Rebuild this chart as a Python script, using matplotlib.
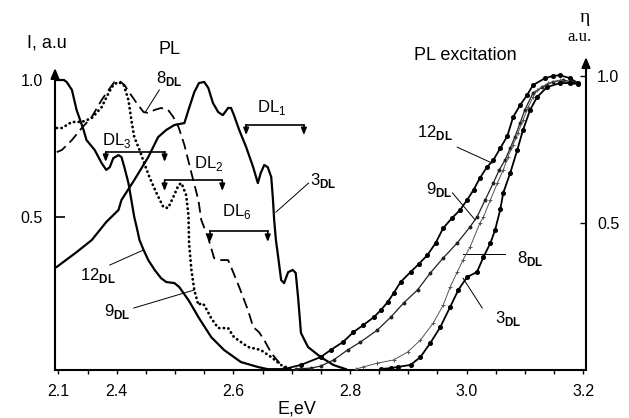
import matplotlib.pyplot as plt

plt.rcParams['font.family'] = ['Liberation Sans', 'DejaVu Sans']
plt.rcParams['mathtext.fontset'] = 'custom'
plt.rcParams['mathtext.rm'] = 'Liberation Sans'
plt.rcParams['mathtext.bf'] = 'Liberation Sans:bold'

# PL spectra (left axis, I a.u.)
pl12_x = [2.297, 2.309, 2.314, 2.323, 2.331, 2.343, 2.348, 2.362, 2.374, 2.382, 2.388, 2.394,
          2.403, 2.408, 2.413, 2.420, 2.425, 2.430, 2.434, 2.439, 2.446, 2.454, 2.465, 2.476,
          2.485, 2.499, 2.507, 2.523, 2.533, 2.540, 2.562, 2.584, 2.613, 2.642, 2.659, 2.682]
pl12_y = [1.0, 1.0, 0.993, 0.964, 0.891, 0.818, 0.781, 0.745, 0.697, 0.672, 0.682, 0.715,
          0.726, 0.719, 0.682, 0.624, 0.562, 0.500, 0.464, 0.416, 0.380, 0.343, 0.307, 0.277,
          0.263, 0.259, 0.245, 0.197, 0.161, 0.135, 0.062, 0.015, -0.029, -0.047, -0.055, -0.055]

pl3_x = [2.297, 2.331, 2.357, 2.382, 2.403, 2.408, 2.430, 2.454, 2.471, 2.485, 2.499, 2.516,
         2.523, 2.533, 2.541, 2.550, 2.557, 2.565, 2.574, 2.582, 2.591, 2.596, 2.601, 2.610,
         2.622, 2.634, 2.642, 2.647, 2.653, 2.659, 2.665, 2.668, 2.670, 2.673, 2.676, 2.682,
         2.687, 2.694, 2.702, 2.707, 2.711, 2.716, 2.728, 2.750, 2.772, 2.793]
pl3_y = [0.318, 0.372, 0.416, 0.482, 0.526, 0.562, 0.635, 0.719, 0.792, 0.818, 0.836, 0.843,
         0.891, 0.956, 0.989, 0.993, 0.971, 0.916, 0.883, 0.872, 0.898, 0.898, 0.872, 0.818,
         0.755, 0.682, 0.624, 0.661, 0.690, 0.682, 0.646, 0.562, 0.489, 0.416, 0.369, 0.270,
         0.259, 0.299, 0.307, 0.296, 0.208, 0.077, 0.026, -0.011, -0.040, -0.055]

pl8_x = [2.297, 2.306, 2.323, 2.340, 2.357, 2.374, 2.386, 2.396, 2.405, 2.413, 2.422, 2.434,
         2.446, 2.454, 2.465, 2.476, 2.488, 2.497, 2.506, 2.516, 2.528, 2.540, 2.545, 2.557,
         2.567, 2.579, 2.591, 2.596, 2.610, 2.625, 2.634, 2.644, 2.653, 2.665, 2.682, 2.694]
pl8_y = [0.737, 0.745, 0.781, 0.825, 0.865, 0.927, 0.964, 0.993, 0.996, 0.982, 0.953, 0.916,
         0.883, 0.880, 0.891, 0.898, 0.891, 0.865, 0.828, 0.763, 0.661, 0.562, 0.489, 0.423,
         0.350, 0.343, 0.343, 0.318, 0.245, 0.161, 0.099, 0.080, 0.051, 0.004, -0.040, -0.055]

pl9_x = [2.297, 2.306, 2.323, 2.340, 2.357, 2.374, 2.386, 2.394, 2.403, 2.412, 2.420, 2.425,
         2.430, 2.439, 2.447, 2.456, 2.468, 2.480, 2.488, 2.497, 2.506, 2.511, 2.519, 2.523,
         2.524, 2.528, 2.533, 2.540, 2.545, 2.550, 2.562, 2.574, 2.591, 2.601, 2.625, 2.647,
         2.665, 2.682, 2.699]
pl9_y = [0.825, 0.825, 0.847, 0.847, 0.861, 0.901, 0.953, 0.982, 0.993, 0.982, 0.927, 0.854,
         0.792, 0.745, 0.697, 0.646, 0.588, 0.536, 0.533, 0.573, 0.617, 0.624, 0.580, 0.507,
         0.405, 0.307, 0.234, 0.179, 0.186, 0.179, 0.131, 0.095, 0.095, 0.062, 0.026, 0.015,
         -0.011, -0.040, -0.055]

# PL excitation spectra (right axis, eta a.u.)
ex12_x = [2.687, 2.716, 2.750, 2.767, 2.788, 2.806, 2.823, 2.841, 2.853, 2.865, 2.875, 2.887,
          2.904, 2.918, 2.933, 2.947, 2.960, 2.975, 2.989, 3.001, 3.012, 3.023, 3.035, 3.046,
          3.058, 3.070, 3.080, 3.092, 3.104, 3.114, 3.135, 3.148, 3.160, 3.177, 3.191]
ex12_y = [0.0, 0.014, 0.041, 0.065, 0.092, 0.126, 0.150, 0.177, 0.201, 0.229, 0.259, 0.297,
          0.331, 0.358, 0.389, 0.430, 0.481, 0.515, 0.543, 0.577, 0.611, 0.652, 0.689, 0.713,
          0.754, 0.795, 0.860, 0.901, 0.935, 0.969, 0.993, 1.0, 1.003, 0.993, 0.976]

ex9_x = [2.707, 2.733, 2.750, 2.772, 2.796, 2.818, 2.847, 2.870, 2.892, 2.916, 2.938, 2.960,
         2.984, 3.006, 3.018, 3.032, 3.046, 3.056, 3.066, 3.075, 3.083, 3.092, 3.100, 3.114,
         3.130, 3.148, 3.165, 3.182, 3.191]
ex9_y = [0.0, 0.003, 0.010, 0.031, 0.065, 0.092, 0.133, 0.177, 0.225, 0.270, 0.328, 0.379,
         0.430, 0.485, 0.519, 0.577, 0.635, 0.679, 0.713, 0.754, 0.792, 0.840, 0.884, 0.942,
         0.962, 0.980, 0.986, 0.980, 0.973]

ex8_x = [2.810, 2.823, 2.847, 2.875, 2.899, 2.921, 2.943, 2.960, 2.972, 2.984, 2.994, 3.006,
         3.023, 3.029, 3.041, 3.053, 3.063, 3.071, 3.080, 3.088, 3.097, 3.106, 3.114, 3.121,
         3.140, 3.160, 3.181, 3.191]
ex8_y = [0.0, 0.007, 0.020, 0.031, 0.058, 0.099, 0.157, 0.218, 0.280, 0.331, 0.372, 0.416,
         0.498, 0.519, 0.577, 0.635, 0.679, 0.724, 0.765, 0.805, 0.850, 0.894, 0.928, 0.952,
         0.976, 0.986, 0.976, 0.973]

ex3_x = [2.853, 2.870, 2.882, 2.904, 2.921, 2.938, 2.955, 2.972, 2.986, 3.001, 3.018, 3.029,
         3.041, 3.049, 3.058, 3.063, 3.075, 3.087, 3.097, 3.109, 3.121, 3.138, 3.160, 3.177,
         3.191]
ex3_y = [0.0, 0.003, 0.007, 0.014, 0.041, 0.089, 0.143, 0.212, 0.270, 0.314, 0.331, 0.382,
         0.430, 0.474, 0.545, 0.601, 0.669, 0.747, 0.816, 0.884, 0.928, 0.962, 0.976, 0.976,
         0.973]

x_ticks = [2.3, 2.35, 2.4, 2.45, 2.5, 2.55, 2.6, 2.65, 2.7, 2.75, 2.8, 2.85, 2.9, 2.95,
           3.0, 3.05, 3.1, 3.15, 3.2]
x_labels = ['2.1', '', '2.4', '', '', '', '2.6', '', '', '', '2.8', '', '', '',
            '3.0', '', '', '', '3.2']


def sub(main, s, bold=True):
    if bold:
        return r'$\mathregular{%s}_{\mathbf{%s}}$' % (main, s)
    return r'$\mathregular{%s}_{\mathregular{%s}}$' % (main, s)


fig = plt.figure(figsize=(6.29, 4.18), dpi=100)
ax = fig.add_axes([55 / 629, 48 / 418, 531 / 629, 313 / 418])

# PL curves
ax.plot(pl12_x, pl12_y, color='black', lw=1.6)
ax.plot(pl3_x, pl3_y, color='black', lw=1.6)
ax.plot(pl8_x, pl8_y, color='black', lw=1.3, dashes=(6, 3))
ax.plot(pl9_x, pl9_y, color='black', lw=2.0, linestyle=(0, (0.1, 1.6)),
        dash_capstyle='round')

ax.set_xlim(2.294, 3.205)
ax.set_ylim(-0.058, 1.084)
for s in ['top', 'left', 'right']:
    ax.spines[s].set_visible(False)
ax.spines['bottom'].set_linewidth(1.5)
ax.set_xticks(x_ticks)
ax.set_xticklabels(x_labels)
ax.tick_params(axis='x', direction='out', length=3, width=1.0, pad=7, labelsize=11.5)
ax.set_yticks([0.5, 1.0])
ax.set_yticklabels(['0.5', '1.0'])
ax.tick_params(axis='y', direction='in', length=7, width=1.2, pad=9, labelsize=11.5)

# axis lines with arrows
arrow = dict(arrowstyle='-|>,head_length=0.6,head_width=0.25', lw=1.5, color='black',
             shrinkA=0, shrinkB=0, mutation_scale=10)
ax.annotate('', xy=(0, 0.965), xytext=(0, 0), xycoords='axes fraction', arrowprops=arrow)
ax.annotate('', xy=(1, 1.0), xytext=(1, 0), xycoords='axes fraction', arrowprops=arrow)

# excitation curves on right axis
ax2 = ax.twinx()
ax2.plot(ex12_x, ex12_y, color='black', lw=1.3, marker='o', ms=2.6)
ax2.plot(ex9_x, ex9_y, color='#222222', lw=0.9, marker='o', ms=1.8)
ax2.plot(ex8_x, ex8_y, color='#555555', lw=0.7, marker='+', ms=3.0, mew=0.7)
ax2.plot(ex3_x, ex3_y, color='black', lw=1.3, marker='o', ms=2.6)
ax2.set_ylim(-0.0034, 1.065)
for s in ax2.spines.values():
    s.set_visible(False)
ax2.set_yticks([0.5, 1.0])
ax2.set_yticklabels(['0.5', '1.0'])
ax2.tick_params(axis='y', direction='in', length=4, width=1.0, pad=8, labelsize=11.5)

# curve labels (PL)
lab = dict(ha='center', va='center', fontsize=12)
ax.text(2.490, 1.007, sub('8', 'DL'), **lab)
ax.plot([2.473, 2.449], [0.964, 0.883], color='black', lw=0.7)
ax.text(2.755, 0.635, sub('3', 'DL'), **lab)
ax.plot([2.729, 2.673], [0.624, 0.518], color='black', lw=0.7)
ax.text(2.367, 0.288, sub('12', 'DL'), **lab)
ax.plot([2.388, 2.446], [0.325, 0.380], color='black', lw=0.7)
ax.text(2.400, 0.157, sub('9', 'DL'), **lab)
ax.plot([2.429, 2.533], [0.168, 0.234], color='black', lw=0.7)

# curve labels (excitation)
ax.text(2.945, 0.807, sub('12', 'DL'), **lab)
ax.plot([2.984, 3.044], [0.755, 0.697], color='black', lw=0.7)
ax.text(2.953, 0.602, sub('9', 'DL'), **lab)
ax.plot([2.976, 3.015], [0.588, 0.489], color='black', lw=0.7)
ax.text(3.109, 0.350, sub('8', 'DL'), **lab)
ax.plot([2.994, 3.066], [0.365, 0.365], color='black', lw=0.7)
ax.text(3.071, 0.131, sub('3', 'DL'), **lab)
ax.plot([3.027, 2.994], [0.168, 0.277], color='black', lw=0.7)

# DL brackets
small_arrow = dict(arrowstyle='-|>,head_length=0.4,head_width=0.16', lw=1.2, color='black',
                   shrinkA=0, shrinkB=0, mutation_scale=10)
brackets = [('1', 2.665, 0.898, 2.622, 2.721, 0.836, 0.799),
            ('3', 2.400, 0.781, 2.381, 2.482, 0.737, 0.701),
            ('2', 2.557, 0.697, 2.482, 2.581, 0.635, 0.595),
            ('6', 2.606, 0.522, 2.560, 2.659, 0.449, 0.409)]
for n, tx, ty, x1, x2, ytop, ybot in brackets:
    ax.text(tx, ty, sub('DL', n, bold=False), **lab)
    ax.plot([x1, x2], [ytop, ytop], color='black', lw=1.2)
    for xx in (x1, x2):
        ax.annotate('', xy=(xx, ybot), xytext=(xx, ytop), arrowprops=small_arrow)

# titles and axis labels
fig.text(47 / 629, 1 - 43 / 418, 'I, a.u', ha='center', va='center', fontsize=13)
fig.text(169 / 629, 1 - 49 / 418, 'PL', ha='center', va='center', fontsize=13)
fig.text(465 / 629, 1 - 55 / 418, 'PL excitation', ha='center', va='center', fontsize=13)
fig.text(585 / 629, 1 - 18 / 418, 'η', ha='center', va='center', fontsize=14,
         family=['Liberation Serif', 'DejaVu Serif'])
fig.text(579 / 629, 1 - 37 / 418, 'a.u.', ha='center', va='center', fontsize=12,
         family=['Liberation Serif', 'DejaVu Serif'])
fig.text(297 / 629, 1 - 409 / 418, 'E,eV', ha='center', va='center', fontsize=13)

plt.savefig('out.png', dpi=100)
